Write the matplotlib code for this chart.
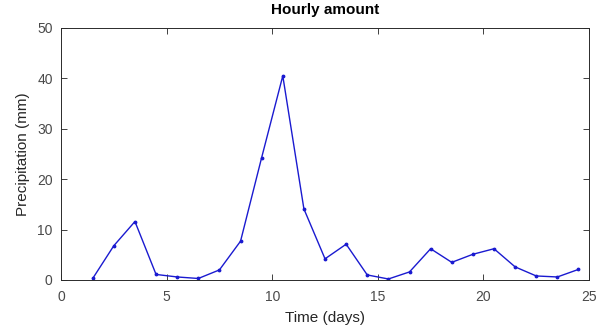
import numpy as np
import matplotlib as mpl
import matplotlib.pyplot as plt

mpl.rcParams['font.family'] = ['Liberation Sans', 'DejaVu Sans']

# hourly precipitation, one sample per day at mid-day
days = [1.5, 2.5, 3.5, 4.5, 5.5, 6.5, 7.5, 8.5, 9.5, 10.5, 11.5, 12.5,
        13.5, 14.5, 15.5, 16.5, 17.5, 18.5, 19.5, 20.5, 21.5, 22.5, 23.5, 24.5]
precip = [0.3, 6.8, 11.6, 1.1, 0.6, 0.3, 2.0, 7.7, 24.3, 40.5, 14.1, 4.2,
          7.1, 1.0, 0.2, 1.6, 6.2, 3.5, 5.1, 6.2, 2.6, 0.8, 0.6, 2.1]

fig = plt.figure(figsize=(6.06, 3.36), dpi=100)
ax = fig.add_axes([0.1007, 0.1667, 0.8713, 0.75])

ax.plot(days, precip, color='#1a1ad0', linewidth=1.0, marker='.', markersize=3.5)

ax.set_xlim(0, 25)
ax.set_ylim(0, 50)
ax.set_xticks(np.arange(0, 26, 5))
ax.set_yticks(np.arange(0, 51, 10))
ax.tick_params(direction='in', top=True, right=True, length=4, width=0.7,
               colors='#404040', labelsize=10, labelcolor='#4a4a4a')
ax.tick_params(axis='x', pad=7)
ax.tick_params(axis='y', pad=6)
for s in ax.spines.values():
    s.set_linewidth(0.7)
    s.set_color('#2a2a2a')

ax.set_xlabel('Time (days)', fontsize=11, color='#262626', labelpad=5)
ax.set_ylabel('Precipitation (mm)', fontsize=11, color='#262626', labelpad=5)
ax.set_title('Hourly amount', fontsize=11, fontweight='bold', pad=10)

fig.savefig('out.png', dpi=100)
